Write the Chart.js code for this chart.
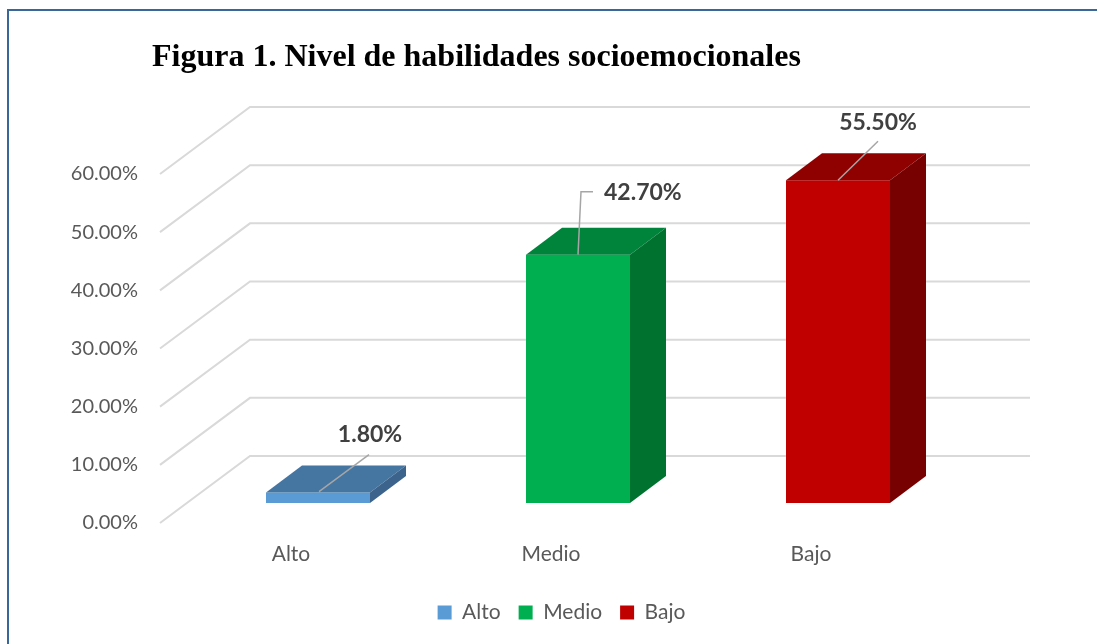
<!DOCTYPE html>
<html>
<head>
<meta charset="utf-8">
<script src="https://cdn.jsdelivr.net/npm/chart.js@4.4.0/dist/chart.umd.min.js"></script>
<style>
  html, body { margin: 0; padding: 0; background: #ffffff; }
  #wrap { position: relative; width: 1097px; height: 644px; overflow: hidden; }
  #frame { position: absolute; left: 7px; top: 9px; width: 1200px; height: 800px;
           border-left: 2px solid #3a6799; border-top: 2px solid #3a6799; pointer-events: none; }
  canvas { position: absolute; left: 0; top: 0; }
</style>
</head>
<body>
<div id="wrap">
  <div id="frame"></div>
  <canvas id="chart" width="1097" height="644"></canvas>
</div>
<script>
// datos
const titulo = 'Figura 1. Nivel de habilidades socioemocionales';
const categorias = ['Alto', 'Medio', 'Bajo'];
const porcentajes = [1.8, 42.7, 55.5];
const yMin = 0;
const yMax = 60;
const yPaso = 10;

// colores: cara frontal, superior y lateral
const colorFrente = ['#5b9bd5', '#00b050', '#c00000'];
const colorArriba = ['#4575a1', '#00843c', '#8f0000'];
const colorLado = ['#3b638b', '#00722f', '#770000'];

// profundidad 3D (px)
const prof = { dx: 36, dy: -27 };
const pared = { dx: 62, dy: -47, frenteDx: -28, frenteDy: 20 };

// linea guia y etiqueta de cada barra, relativo a la cara superior
const guias = [
  { puntos: [[1, -1], [51, -38]], etiqueta: [52, -58], align: 'center' },
  { puntos: [[0, 0], [3, -63], [15, -63]], etiqueta: [26, -62], align: 'left' },
  { puntos: [[0, 0], [40, -39]], etiqueta: [40, -58], align: 'center' }
];

// cuadricula tipo pared 3D
const paredPlugin = {
  id: 'pared',
  beforeDatasetsDraw(chart) {
    const ctx = chart.ctx;
    const y = chart.scales.y;
    const area = chart.chartArea;
    ctx.save();
    ctx.strokeStyle = '#d9d9d9';
    ctx.lineWidth = 2;
    for (let v = yMin; v <= yMax; v += yPaso) {
      const py = y.getPixelForValue(v);
      ctx.beginPath();
      ctx.moveTo(area.left + pared.frenteDx, py + pared.frenteDy);
      ctx.lineTo(area.left + pared.dx, py + pared.dy);
      ctx.lineTo(area.right + pared.dx, py + pared.dy);
      ctx.stroke();
    }
    ctx.restore();
  }
};

// caras superior y lateral, guias y etiquetas
const barras3d = {
  id: 'barras3d',
  afterDatasetsDraw(chart) {
    const ctx = chart.ctx;
    const meta = chart.getDatasetMeta(0);
    ctx.save();
    meta.data.forEach((bar, i) => {
      const p = bar.getProps(['x', 'y', 'base', 'width'], true);
      const l = p.x - p.width / 2;
      const r = p.x + p.width / 2;

      ctx.fillStyle = colorArriba[i];
      ctx.beginPath();
      ctx.moveTo(l, p.y);
      ctx.lineTo(r, p.y);
      ctx.lineTo(r + prof.dx, p.y + prof.dy);
      ctx.lineTo(l + prof.dx, p.y + prof.dy);
      ctx.closePath();
      ctx.fill();

      ctx.fillStyle = colorLado[i];
      ctx.beginPath();
      ctx.moveTo(r, p.y);
      ctx.lineTo(r + prof.dx, p.y + prof.dy);
      ctx.lineTo(r + prof.dx, p.base + prof.dy);
      ctx.lineTo(r, p.base);
      ctx.closePath();
      ctx.fill();

      const g = guias[i];
      ctx.strokeStyle = '#a6a6a6';
      ctx.lineWidth = 1.5;
      ctx.beginPath();
      g.puntos.forEach((pt, k) => {
        if (k === 0) ctx.moveTo(p.x + pt[0], p.y + pt[1]);
        else ctx.lineTo(p.x + pt[0], p.y + pt[1]);
      });
      ctx.stroke();

      ctx.fillStyle = '#404040';
      ctx.font = 'bold 23px Lato';
      ctx.textAlign = g.align;
      ctx.textBaseline = 'middle';
      ctx.fillText(porcentajes[i].toFixed(2) + '%', p.x + g.etiqueta[0], p.y + g.etiqueta[1]);
    });
    ctx.restore();
  },
  afterDraw(chart) {
    const ctx = chart.ctx;
    ctx.save();
    ctx.fillStyle = '#000000';
    ctx.font = 'bold 32px "Liberation Serif"';
    ctx.textAlign = 'left';
    ctx.textBaseline = 'alphabetic';
    ctx.fillText(titulo, 152, 66);
    ctx.restore();
  }
};

new Chart(document.getElementById('chart'), {
  type: 'bar',
  data: {
    labels: categorias,
    datasets: [{
      label: 'Nivel',
      data: porcentajes,
      backgroundColor: colorFrente,
      borderWidth: 0,
      barPercentage: 0.4,
      categoryPercentage: 1
    }]
  },
  options: {
    responsive: false,
    animation: false,
    devicePixelRatio: 1,
    layout: { padding: { left: 26, right: 0, top: 154, bottom: 11 } },
    scales: {
      x: {
        grid: { display: false, drawTicks: false },
        border: { display: false },
        ticks: {
          padding: 39,
          labelOffset: -27,
          color: '#595959',
          font: { family: 'Lato', size: 21 }
        },
        afterFit(s) { s.height = 81; }
      },
      y: {
        min: yMin,
        max: yMax,
        grid: { display: false, drawTicks: false },
        border: { display: false },
        ticks: {
          stepSize: yPaso,
          padding: 50,
          labelOffset: 20,
          color: '#595959',
          font: { family: 'Lato', size: 20 },
          callback: v => v.toFixed(2) + '%'
        },
        afterFit(s) { s.width = 162; }
      },
      // eje vacio a la derecha, solo reserva espacio
      derecha: {
        position: 'right',
        grid: { display: false, drawTicks: false },
        border: { display: false },
        ticks: { display: false },
        afterFit(s) { s.width = 129; }
      }
    },
    plugins: {
      tooltip: { enabled: false },
      legend: {
        position: 'bottom',
        onClick: null,
        labels: {
          boxWidth: 14,
          boxHeight: 14,
          padding: 18,
          color: '#595959',
          font: { family: 'Lato', size: 21 },
          generateLabels() {
            return categorias.map((c, i) => ({
              text: c,
              fillStyle: colorFrente[i],
              strokeStyle: colorFrente[i],
              lineWidth: 0,
              hidden: false,
              index: i,
              datasetIndex: 0,
              fontColor: '#595959'
            }));
          }
        }
      }
    }
  },
  plugins: [paredPlugin, barras3d]
});
</script>
</body>
</html>
